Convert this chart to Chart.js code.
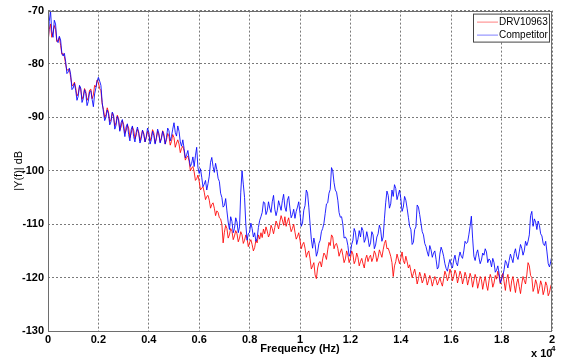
<!DOCTYPE html>
<html>
<head>
<meta charset="utf-8">
<title>DRV10963 vs Competitor spectrum</title>
<script src="https://cdn.jsdelivr.net/npm/chart.js@4/dist/chart.umd.min.js"></script>
<style>
  html, body { margin: 0; padding: 0; background: #fff; }
  #wrap { width: 563px; height: 360px; position: relative; }
</style>
</head>
<body>
<div id="wrap"><canvas id="spectrum_chart" width="563" height="360"></canvas></div>
<script>
// frequency axis is in units of 1e4 Hz, one value every 0.005 (10 per row = 0.05)
const freq_step = 0.005;

// DRV10963, dB
const drv_db = [
  -76, -73.5, -72.5, -75, -74, -72.8, -73.5, -75.8, -75.5, -75,
  -76.5, -78.2, -78, -78.6, -80, -81.2, -81, -81, -82.5, -84,
  -84, -83.4, -84.5, -86, -85.5, -84.2, -84.8, -86.6, -86, -84.6,
  -85.2, -86.8, -86.3, -84.9, -84.7, -86.5, -85.8, -84, -84.3, -83,
  -83.5, -84.6, -85, -87.5, -88.5, -90, -89.5, -88.2, -89, -90.8,
  -90.5, -89.2, -89.8, -91.6, -91, -89.6, -90.2, -92.4, -91.8, -90.6,
  -91.3, -93, -92.5, -91.4, -92, -93.8, -93, -91.8, -92.4, -94,
  -93.3, -92.2, -92.7, -94.4, -93.5, -92.4, -93, -94.6, -93.8, -92.6,
  -93.2, -94.4, -93.6, -92.3, -92.9, -94.8, -94, -92.6, -93.3, -94.6,
  -93.8, -92.5, -93.1, -95, -94.2, -93, -93.5, -95.2, -94.5, -93.2,
  -93.8, -95.6, -94.8, -94.2, -95, -96.6, -95.8, -95.4, -96.3, -98,
  -97.5, -97.2, -98.2, -100, -99.5, -99.2, -100.2, -101.8, -101.5, -100.8,
  -102, -103.6, -103.2, -103, -104, -105.4, -104.8, -104.6, -105.5, -107,
  -106.3, -106, -107, -108.4, -107.5, -107.8, -108.8, -109, -110, -113.5,
  -111.5, -110.2, -110.8, -112.6, -112, -110.8, -111.3, -112.9, -112.2, -111.2,
  -111.8, -113.3, -112.6, -111.4, -112, -113.6, -113, -112, -112.7, -114.2,
  -113.4, -112.9, -113.8, -115, -114.4, -113, -113.5, -112, -112.8, -111.6,
  -112.5, -110.9, -111.8, -110.5, -111.3, -112.4, -111.8, -110.2, -110.8, -111.8,
  -110.6, -109.4, -110, -110.9, -109.6, -108.4, -109.2, -110.2, -108.6, -110.4,
  -109.5, -108.8, -110.2, -111.4, -110.8, -110, -111.5, -112.8, -112.3, -111.6,
  -113, -114.6, -113.8, -113.4, -114.5, -116.2, -115.4, -115, -116.5, -118.4,
  -117.8, -117.2, -119.5, -120.2, -118.2, -117.2, -117, -118, -116.5, -115.4,
  -115.8, -116.6, -114.8, -113.4, -114, -112, -112.4, -114.6, -113.8, -113.6,
  -114.5, -116, -115.2, -114.6, -115.8, -117.2, -116.5, -115, -115.8, -117.2,
  -116.4, -115, -115.6, -117.4, -116.8, -115.4, -116.2, -117.8, -117, -116.4,
  -117.4, -118.2, -116.5, -115.8, -117, -116.2, -115.8, -117, -116.3, -115,
  -115.6, -117, -116.2, -114.8, -115.5, -116.2, -114.8, -113.6, -113, -114.6,
  -114.5, -115.2, -116, -117.2, -119.8, -117.8, -117, -115.6, -116.5, -117.4,
  -116.4, -115.2, -116.8, -117.4, -116, -117, -118.2, -117.6, -118.8, -120,
  -119.2, -118.4, -119.6, -121.2, -120.2, -119, -119.8, -121, -120.4, -119.2,
  -120, -121.4, -120.6, -119.6, -120.3, -121.6, -120.7, -119.8, -120.4, -121.4,
  -120.8, -120, -120.9, -121.6, -120.2, -118.8, -119.5, -120.6, -119.8, -118.4,
  -119.2, -120.6, -119.8, -118.6, -119.3, -121, -120, -118.8, -119.5, -121.2,
  -120.2, -119, -119.8, -121.4, -120.4, -119.2, -120, -121.8, -120.6, -119.4,
  -120.2, -122, -121, -119.8, -120.4, -122.2, -120.8, -119.8, -121.4, -122.4,
  -120.6, -119.4, -120.2, -121.8, -121, -119.6, -120.3, -118.8, -119.8, -121.2,
  -120, -119.2, -120.8, -122.4, -120.3, -119.4, -121.2, -122.6, -120.6, -119.8,
  -121.4, -122.8, -121, -120.2, -121.7, -123, -121.2, -119.8, -120.5, -121.2,
  -119.5, -117.2, -117.8, -119.6, -120, -122.6, -121.8, -120.4, -121.2, -123,
  -122, -120.6, -121.4, -123.2, -122.3, -120.8, -121.5, -123.4, -122.8, -121.6,
  -121
];

// Competitor, dB
const competitor_db = [
  -77, -72, -70, -74, -75, -71.8, -72.5, -75.6, -76, -74.8,
  -75.5, -78, -78.5, -78, -79.5, -81.8, -81.5, -80.8, -82, -84.8,
  -84.5, -83.6, -85, -86.8, -86, -84, -84.5, -87.2, -86.5, -84.8,
  -85.5, -87.8, -87, -85.2, -85, -86.6, -88, -85.6, -84.5, -83.2,
  -82.5, -83.2, -84, -87.2, -89, -90.6, -90, -88.6, -89.3, -91.4,
  -90.8, -89, -89.5, -92.2, -91.5, -89.8, -90.5, -92.6, -91, -90.4,
  -92, -93.6, -91.8, -91.2, -93.2, -94.4, -92.3, -91.6, -93.6, -94.6,
  -92.8, -91.8, -93, -94.8, -94, -92.4, -93.2, -94.6, -93.6, -92,
  -92.8, -95, -94.2, -92.6, -93.4, -95, -93.8, -92.2, -93, -94.8,
  -94, -92.6, -93.5, -95, -93.8, -92, -92.5, -94.4, -93.6, -92.2,
  -91, -92.8, -93.5, -91.6, -92.6, -94.6, -95.4, -94.2, -95.8, -97.6,
  -97, -96.2, -97.8, -99.2, -98.6, -97.4, -99.2, -97.2, -95.6, -99.4,
  -100.5, -99.6, -101.2, -103, -102.5, -101.8, -103.6, -102.4, -101, -98.4,
  -97.5, -99.2, -100.3, -98.6, -99.8, -101.4, -102, -104.2, -105, -106.8,
  -106.5, -105.2, -107.5, -109.6, -111, -108.6, -109.5, -111.6, -110.8, -108.8,
  -109.6, -111.6, -110.5, -104, -100, -102.5, -105, -110, -113, -111.8,
  -111.5, -109.8, -110.8, -112.4, -111.6, -113.2, -112.6, -110.6, -109.3, -108.6,
  -107.8, -105.8, -106, -108.2, -107.5, -105.8, -107, -107.8, -105.8, -104.6,
  -107.2, -108.4, -107.4, -105.6, -106.5, -107.4, -105.6, -104.4, -106.8, -107.6,
  -105.5, -104.8, -107, -108.8, -108.2, -107.2, -108.9, -107.6, -106.8, -105.8,
  -108, -110.4, -109.8, -107.4, -106.5, -103.6, -104.2, -106.8, -110, -112.8,
  -114.5, -112.6, -113.8, -116, -115.2, -113.6, -113, -111.4, -110.8, -109.8,
  -108, -106.2, -106, -104.2, -103.5, -99.4, -100, -102.2, -103.6, -104,
  -105.5, -107.8, -108.7, -108.6, -110, -112.6, -112.4, -112.8, -114, -116,
  -115.4, -113.8, -113, -110.8, -111.5, -113.8, -112.8, -111.2, -112.4, -110.6,
  -111.2, -113.4, -112.8, -111.4, -112.6, -114.2, -113.5, -111.4, -112, -114.6,
  -113.9, -112.4, -111.8, -110.2, -111, -113.2, -112.4, -109, -106, -103.8,
  -104.6, -107, -106.2, -103.6, -104.8, -102.6, -103.3, -105.4, -104.5, -103.6,
  -105.2, -107.6, -106.8, -104.8, -105.5, -107, -108.7, -110.4, -111, -113.8,
  -113.4, -111, -110.5, -106.4, -106.8, -108.2, -109.8, -111.4, -112, -113.6,
  -114.2, -115.2, -116, -114, -114.8, -116.2, -115.4, -115, -116.6, -118.4,
  -118, -115.6, -114.3, -115, -116, -117.4, -118.3, -118.8, -117.5, -116.6,
  -117.7, -118.2, -116.7, -115.8, -117.2, -117.8, -116.3, -115.2, -116, -116.4,
  -115, -113.2, -113.6, -113.4, -112, -110.4, -108.5, -112.6, -116, -116.8,
  -115.5, -114.8, -116.2, -117.4, -116.7, -115.4, -115.8, -114.6, -115.2, -117.2,
  -116.5, -116.8, -118, -116.4, -117.2, -119, -118.6, -117.8, -119.2, -121,
  -120.3, -119.6, -118.5, -116.8, -117.3, -118.2, -116.8, -115.6, -116.4, -117.2,
  -115.5, -114.6, -116, -116.6, -115.2, -113.8, -114.5, -115.8, -115, -113.2,
  -114, -113.2, -112, -108.4, -107.6, -110.4, -109, -109.6, -111, -109.4,
  -110.2, -111.8, -112.2, -113.6, -114, -113.2, -115.2, -117.4, -118, -117,
  -115.8
];

const series_names = ["DRV10963", "Competitor"];
const series_colors = ["rgba(255,0,0,0.85)", "rgba(0,0,255,0.85)"];
const legend_colors = ["#ff8080", "#8080ff"];

const x_min = 0, x_max = 2, x_step = 0.2;
const y_min = -130, y_max = -70, y_step = 10;

function toPoints(values){
  return values.map((v, i) => ({ x: +(i * freq_step).toFixed(3), y: v }));
}

const FONT = "'Liberation Sans', Arial, sans-serif";

// box around the plot, inside legend and the "x 10^4" multiplier
const matlabBits = {
  id: "matlabBits",
  afterDraw(chart){
    const c = chart.ctx;
    const a = chart.chartArea;
    c.save();
    c.strokeStyle = "#6e6e6e";
    c.lineWidth = 1;
    c.strokeRect(Math.round(a.left) + 0.5, Math.round(a.top) + 0.5,
                 Math.round(a.right - a.left) - 1, Math.round(a.bottom - a.top));

    // legend
    const lx = a.right - 79, ly = a.top + 3, lw = 76, lh = 28;
    c.fillStyle = "#fff";
    c.fillRect(lx, ly, lw, lh);
    c.strokeStyle = "#444";
    c.strokeRect(lx + 0.5, ly + 0.5, lw, lh);
    c.font = "10px " + FONT;
    c.textBaseline = "middle";
    c.textAlign = "left";
    series_names.forEach((name, i) => {
      const yy = ly + 8 + i * 13;
      c.strokeStyle = legend_colors[i];
      c.beginPath();
      c.moveTo(lx + 4, yy + 0.5);
      c.lineTo(lx + 25, yy + 0.5);
      c.stroke();
      c.fillStyle = "#000";
      c.fillText(name, lx + 26, yy + 1);
    });

    // exponent
    c.font = "bold 11px " + FONT;
    c.textBaseline = "alphabetic";
    c.fillStyle = "#000";
    c.fillText("x 10", a.right - 21, 357);
    c.font = "bold 8px " + FONT;
    c.fillText("4", a.right - 1, 351);
    c.restore();
  }
};

const ctx = document.getElementById("spectrum_chart").getContext("2d");

new Chart(ctx, {
  type: "line",
  data: {
    datasets: [{
      label: series_names[0],
      data: toPoints(drv_db),
      borderColor: series_colors[0],
      borderWidth: 1,
      pointRadius: 0,
      fill: false,
      order: 1
    },{
      label: series_names[1],
      data: toPoints(competitor_db),
      borderColor: series_colors[1],
      borderWidth: 1,
      pointRadius: 0,
      fill: false,
      order: 0
    }]
  },
  options: {
    responsive: false,
    animation: false,
    layout: { padding: { top: 10, right: 11, left: 0, bottom: 0 } },
    plugins: { legend: { display: false }, tooltip: { enabled: false } },
    scales: {
      x: {
        type: "linear",
        min: x_min,
        max: x_max,
        afterFit(scale){ scale.height = 29; },
        ticks: {
          stepSize: x_step,
          padding: 2,
          color: "#000",
          font: { family: FONT, size: 11, weight: "bold" },
          maxRotation: 0,
          callback: v => String(+v.toFixed(1))
        },
        grid: { color: "#7a7a7a", drawTicks: false },
        border: { display: false, dash: [2, 2] },
        title: {
          display: true,
          text: "Frequency (Hz)",
          color: "#000",
          font: { family: FONT, size: 11, weight: "bold" },
          padding: { top: 0, bottom: 4 }
        }
      },
      y: {
        min: y_min,
        max: y_max,
        afterFit(scale){ scale.width = 48; },
        ticks: {
          stepSize: y_step,
          padding: 4,
          color: "#000",
          font: { family: FONT, size: 11, weight: "bold" }
        },
        grid: { color: "#7a7a7a", drawTicks: false },
        border: { display: false, dash: [2, 2] },
        title: {
          display: true,
          text: "|Y(f)| dB",
          color: "#000",
          font: { family: FONT, size: 11 },
          padding: { top: 12, bottom: 0 }
        }
      }
    }
  },
  plugins: [matlabBits]
});
</script>
</body>
</html>
